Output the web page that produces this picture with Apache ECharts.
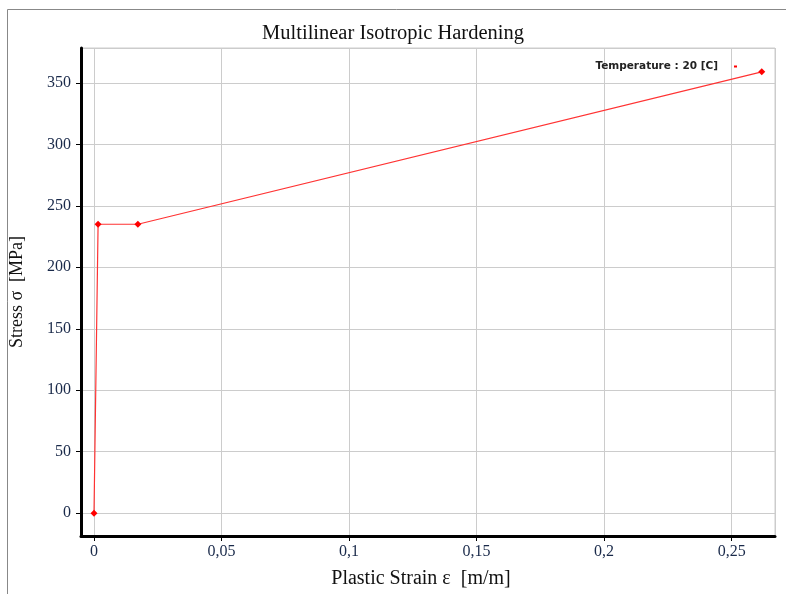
<!DOCTYPE html>
<html>
<head>
<meta charset="utf-8">
<script src="https://cdn.jsdelivr.net/npm/echarts@6/dist/echarts.min.js"></script>
<style>
  html, body { margin: 0; padding: 0; background: #fff; }
  #chart { width: 786px; height: 594px; }
</style>
</head>
<body>
<div id="chart"></div>
<script>
// plastic strain [m/m] and stress [MPa]
const strain = [0, 0.0016, 0.0172, 0.2618];
const stress = [0, 235, 235, 359];
const seriesName = 'Temperature : 20 [C]';

const points = strain.map((x, i) => [x, stress[i]]);
const serif = '"Liberation Serif", "DejaVu Serif", serif';
const comma = v => String(+v.toFixed(4)).replace('.', ',');

const chart = echarts.init(document.getElementById('chart'));
chart.setOption({
  animation: false,
  backgroundColor: '#fff',
  title: {
    text: 'Multilinear Isotropic Hardening',
    left: 'center',
    top: 18,
    textStyle: { fontFamily: serif, fontSize: 20.5, fontWeight: 'normal', color: '#111' }
  },
  legend: {
    right: 44,
    top: 56,
    itemWidth: 3,
    itemHeight: 2,
    itemGap: 0,
    align: 'right',
    icon: 'rect',
    textStyle: { fontFamily: '"DejaVu Sans", sans-serif', fontSize: 10.5, fontWeight: 'bold', color: '#222', padding: [0, 11, 0, 0] },
    data: [seriesName]
  },
  grid: { left: 80, top: 48, right: 11, bottom: 56, show: true, borderColor: '#ccc', borderWidth: 1 },
  xAxis: {
    type: 'value',
    min: -0.0051,
    max: 0.267,
    splitNumber: 5,
    name: 'Plastic Strain ε  [m/m]',
    nameLocation: 'middle',
    nameGap: 33,
    nameTextStyle: { fontFamily: serif, fontSize: 20, color: '#111', padding: [0, 14, 0, 0] },
    axisLine: { onZero: false, lineStyle: { color: '#000', width: 3 } },
    axisTick: { show: true, length: 5, lineStyle: { color: '#000' } },
    axisLabel: {
      showMinLabel: false, showMaxLabel: false, margin: 8,
      fontFamily: serif, fontSize: 16, color: '#1a2a4a',
      formatter: comma
    },
    splitLine: { show: true, lineStyle: { color: '#ccc' } }
  },
  yAxis: {
    type: 'value',
    min: -18.6,
    max: 378.4,
    splitNumber: 8,
    name: 'Stress σ  [MPa]',
    nameLocation: 'middle',
    nameGap: 55,
    nameTextStyle: { fontFamily: serif, fontSize: 18, color: '#111' },
    axisLine: { show: true, onZero: false, lineStyle: { color: '#000', width: 3 } },
    axisTick: { show: true, length: 5, lineStyle: { color: '#000' } },
    axisLabel: {
      showMinLabel: false, showMaxLabel: false, margin: 10,
      fontFamily: serif, fontSize: 16, color: '#1a2a4a'
    },
    splitLine: { show: true, lineStyle: { color: '#ccc' } }
  },
  graphic: [
    { type: 'line', shape: { x1: 7.5, y1: 9.5, x2: 786, y2: 9.5 }, style: { stroke: '#888', lineWidth: 1 } },
    { type: 'line', shape: { x1: 7.5, y1: 9.5, x2: 7.5, y2: 594 }, style: { stroke: '#888', lineWidth: 1 } }
  ],
  series: [{
    name: seriesName,
    type: 'line',
    data: points,
    color: '#ff0000',
    symbol: 'diamond',
    symbolSize: 7,
    lineStyle: { width: 1.2, color: '#ff3333' },
    itemStyle: { color: '#ff0000' }
  }]
});
</script>
</body>
</html>
